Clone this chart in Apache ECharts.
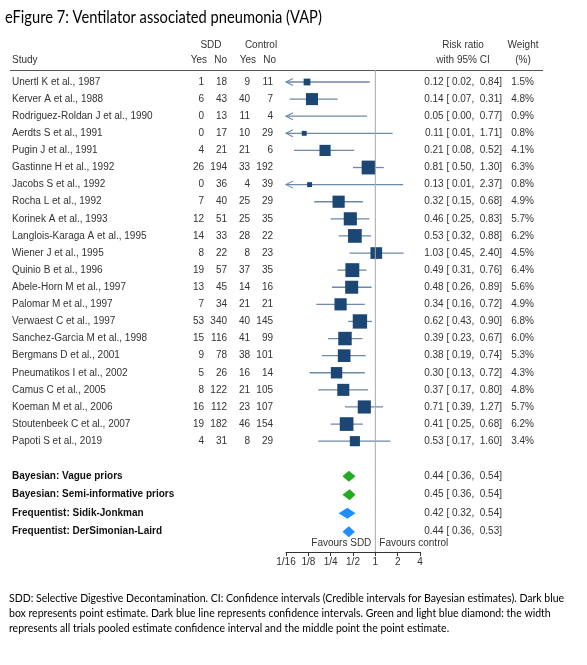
<!DOCTYPE html>
<html><head><meta charset="utf-8">
<script src="https://cdn.jsdelivr.net/npm/echarts@6/dist/echarts.min.js"></script>
<style>html,body{margin:0;padding:0;background:#fff}#c{width:587px;height:665px}</style>
</head><body><div id="c"></div><script>
const studies = ['Unertl K et al., 1987','Kerver A et al., 1988','Rodriguez-Roldan J et al., 1990','Aerdts S et al., 1991','Pugin J et al., 1991','Gastinne H et al., 1992','Jacobs S et al., 1992','Rocha L et al., 1992','Korinek A et al., 1993','Langlois-Karaga A et al., 1995','Wiener J et al., 1995','Quinio B et al., 1996','Abele-Horn M et al., 1997','Palomar M et al., 1997','Verwaest C et al., 1997','Sanchez-Garcia M et al., 1998','Bergmans D et al., 2001','Pneumatikos I et al., 2002','Camus C et al., 2005','Koeman M et al., 2006','Stoutenbeek C et al., 2007','Papoti S et al., 2019'];
const sddYes  = [1,6,0,0,4,26,0,7,12,14,8,19,13,7,53,15,9,5,8,16,19,4];
const sddNo   = [18,43,13,17,21,194,36,40,51,33,22,57,45,34,340,116,78,26,122,112,182,31];
const ctrlYes = [9,40,11,10,21,33,4,25,25,28,8,37,14,21,40,41,38,16,21,23,46,8];
const ctrlNo  = [11,7,4,29,6,192,39,29,35,22,23,35,16,21,145,99,101,14,105,107,154,29];
const rr      = [0.12,0.14,0.05,0.11,0.21,0.81,0.13,0.32,0.46,0.53,1.03,0.49,0.48,0.34,0.62,0.39,0.38,0.30,0.37,0.71,0.41,0.53];
const ciLow   = [0.02,0.07,0.00,0.01,0.08,0.50,0.01,0.15,0.25,0.32,0.45,0.31,0.26,0.16,0.43,0.23,0.19,0.13,0.17,0.39,0.25,0.17];
const ciHigh  = [0.84,0.31,0.77,1.71,0.52,1.30,2.37,0.68,0.83,0.88,2.40,0.76,0.89,0.72,0.90,0.67,0.74,0.72,0.80,1.27,0.68,1.60];
const weights = [1.5,4.8,0.9,0.8,4.1,6.3,0.8,4.9,5.7,6.2,4.5,6.4,5.6,4.9,6.8,6.0,5.3,4.3,4.8,5.7,6.2,3.4];
const summaryLabels = ['Bayesian: Vague priors','Bayesian: Semi-informative priors','Frequentist: Sidik-Jonkman','Frequentist: DerSimonian-Laird'];
const summaryEst  = [0.44,0.45,0.42,0.44];
const summaryLow  = [0.36,0.36,0.32,0.36];
const summaryHigh = [0.54,0.54,0.54,0.53];
const tickValues = [1/16,1/8,1/4,1/2,1,2,4];
const tickLabels = ['1/16','1/8','1/4','1/2','1','2','4'];

const FONT = 'Liberation Sans, Arial, sans-serif';
const TXT = '#333';
const BOX = '#1c4674';
const CI = '#6d89a6';
const summaryColors = ['#22aa22','#22aa22','#1e8fff','#1e8fff'];
const lg = v => Math.log2(v);
const xMin = lg(tickValues[0]), xMax = lg(tickValues[tickValues.length-1]);
const nS = studies.length;
const summaryRow = j => nS + 1.05 + j*1.08;
const favRow = 26.95;
const yMax = 27.48;
const fmt = v => v.toFixed(2);
const ciText = (e,l,h) => fmt(e) + ' [ ' + fmt(l) + ',  ' + fmt(h) + ']';

function txt(x, y, s, align, extra) {
  return {type:'text', x:x, y:y, style:Object.assign({text:s, align:align||'left', verticalAlign:'middle', fontSize:10, fontFamily:FONT, fill:TXT}, extra||{})};
}

const chart = echarts.init(document.getElementById('c'));
chart.setOption({
  animation:false,
  backgroundColor:'#fff',
  grid:{left:286, width:134, top:64.9, height:487.1},
  xAxis:{type:'value', min:xMin, max:xMax, interval:1,
    axisLine:{show:true, onZero:false, lineStyle:{color:'#333', width:1}},
    axisTick:{show:true, length:4, lineStyle:{color:'#333'}},
    splitLine:{show:false},
    axisLabel:{margin:5, fontSize:10, fontFamily:FONT, color:TXT,
      formatter:v => { const i = tickValues.findIndex(t => Math.abs(lg(t)-v) < 1e-9); return i>=0 ? tickLabels[i] : ''; }}
  },
  yAxis:{type:'value', inverse:true, min:-1, max:yMax, show:false},
  series:[
    {type:'line', silent:true, symbol:'none', data:[[0,-0.72],[0,yMax]], lineStyle:{color:'#a8a8a8', width:1}},
    {type:'custom', clip:false, silent:true, data:studies.map((s,i)=>[i]),
      renderItem:(params, api) => {
        const i = api.value(0);
        const p = api.coord([0, i]);
        const cy = p[1];
        const ch = [];
        ch.push(txt(12, cy, studies[i]));
        ch.push(txt(204, cy, String(sddYes[i]), 'right'));
        ch.push(txt(227, cy, String(sddNo[i]), 'right'));
        ch.push(txt(250, cy, String(ctrlYes[i]), 'right'));
        ch.push(txt(273, cy, String(ctrlNo[i]), 'right'));
        const loClamped = ciLow[i] < tickValues[0];
        const xl = api.coord([loClamped ? xMin : lg(ciLow[i]), i])[0];
        const xh = api.coord([Math.min(lg(ciHigh[i]), xMax), i])[0];
        ch.push({type:'line', shape:{x1:xl, y1:cy, x2:xh, y2:cy}, style:{stroke:CI, lineWidth:1.3}});
        if (loClamped) {
          ch.push({type:'polyline', shape:{points:[[xl+7,cy-3.5],[xl,cy],[xl+7,cy+3.5]]}, style:{stroke:CI, lineWidth:1.1, fill:null}});
        }
        if (rr[i] >= tickValues[0]) {
          const xc = api.coord([lg(rr[i]), i])[0];
          const s = 5.5*Math.sqrt(weights[i]);
          ch.push({type:'rect', shape:{x:xc-s/2, y:cy-s/2, width:s, height:s}, style:{fill:BOX}});
        }
        ch.push(txt(502, cy, ciText(rr[i], ciLow[i], ciHigh[i]), 'right'));
        ch.push(txt(534, cy, weights[i].toFixed(1)+'%', 'right'));
        return {type:'group', children:ch};
      }},
    {type:'custom', clip:false, silent:true, data:summaryLabels.map((s,j)=>[j]),
      renderItem:(params, api) => {
        const j = api.value(0);
        const r = summaryRow(j);
        const cy = api.coord([0, r])[1];
        const xl = api.coord([lg(summaryLow[j]), r])[0];
        const xm = api.coord([lg(summaryEst[j]), r])[0];
        const xh = api.coord([lg(summaryHigh[j]), r])[0];
        return {type:'group', children:[
          txt(12, cy, summaryLabels[j], 'left', {fontWeight:'bold', fill:'#111'}),
          {type:'polygon', shape:{points:[[xl,cy],[xm,cy-5.5],[xh,cy],[xm,cy+5.5]]}, style:{fill:summaryColors[j]}},
          txt(502, cy, ciText(summaryEst[j], summaryLow[j], summaryHigh[j]), 'right')
        ]};
      }},
    {type:'custom', clip:false, silent:true, data:[[0]],
      renderItem:(params, api) => {
        const p = api.coord([0, favRow]);
        return {type:'group', children:[
          txt(p[0]-4, p[1], 'Favours SDD', 'right'),
          txt(p[0]+4, p[1], 'Favours control', 'left')
        ]};
      }}
  ],
  graphic:[
    {type:'text', x:5, y:8, scaleX:0.815, style:{text:'eFigure 7: Ventilator associated pneumonia (VAP)', fontSize:18, fontFamily:'Lato, sans-serif', fill:'#000'}},
    {type:'text', x:211, y:45, style:{text:'SDD', align:'center', verticalAlign:'middle', fontSize:10, fontFamily:FONT, fill:TXT}},
    {type:'text', x:261, y:45, style:{text:'Control', align:'center', verticalAlign:'middle', fontSize:10, fontFamily:FONT, fill:TXT}},
    {type:'text', x:12, y:60, style:{text:'Study', align:'left', verticalAlign:'middle', fontSize:10, fontFamily:FONT, fill:TXT}},
    {type:'text', x:207, y:60, style:{text:'Yes', align:'right', verticalAlign:'middle', fontSize:10, fontFamily:FONT, fill:TXT}},
    {type:'text', x:227, y:60, style:{text:'No', align:'right', verticalAlign:'middle', fontSize:10, fontFamily:FONT, fill:TXT}},
    {type:'text', x:256, y:60, style:{text:'Yes', align:'right', verticalAlign:'middle', fontSize:10, fontFamily:FONT, fill:TXT}},
    {type:'text', x:276, y:60, style:{text:'No', align:'right', verticalAlign:'middle', fontSize:10, fontFamily:FONT, fill:TXT}},
    {type:'text', x:463, y:45, style:{text:'Risk ratio', align:'center', verticalAlign:'middle', fontSize:10, fontFamily:FONT, fill:TXT}},
    {type:'text', x:463, y:60, style:{text:'with 95% CI', align:'center', verticalAlign:'middle', fontSize:10, fontFamily:FONT, fill:TXT}},
    {type:'text', x:523, y:45, style:{text:'Weight', align:'center', verticalAlign:'middle', fontSize:10, fontFamily:FONT, fill:TXT}},
    {type:'text', x:523, y:60, style:{text:'(%)', align:'center', verticalAlign:'middle', fontSize:10, fontFamily:FONT, fill:TXT}},
    {type:'line', shape:{x1:10, y1:70.5, x2:543, y2:70.5}, style:{stroke:'#555', lineWidth:1}},
    {type:'text', x:9, y:591, style:{text:'SDD: Selective Digestive Decontamination. CI: Confidence intervals (Credible intervals for Bayesian estimates). Dark blue\nbox represents point estimate. Dark blue line represents confidence intervals. Green and light blue diamond: the width\nrepresents all trials pooled estimate confidence interval and the middle point the point estimate.', fontSize:10.5, lineHeight:15, fontFamily:'Lato, sans-serif', fill:'#000'}}
  ]
});
</script></body></html>
